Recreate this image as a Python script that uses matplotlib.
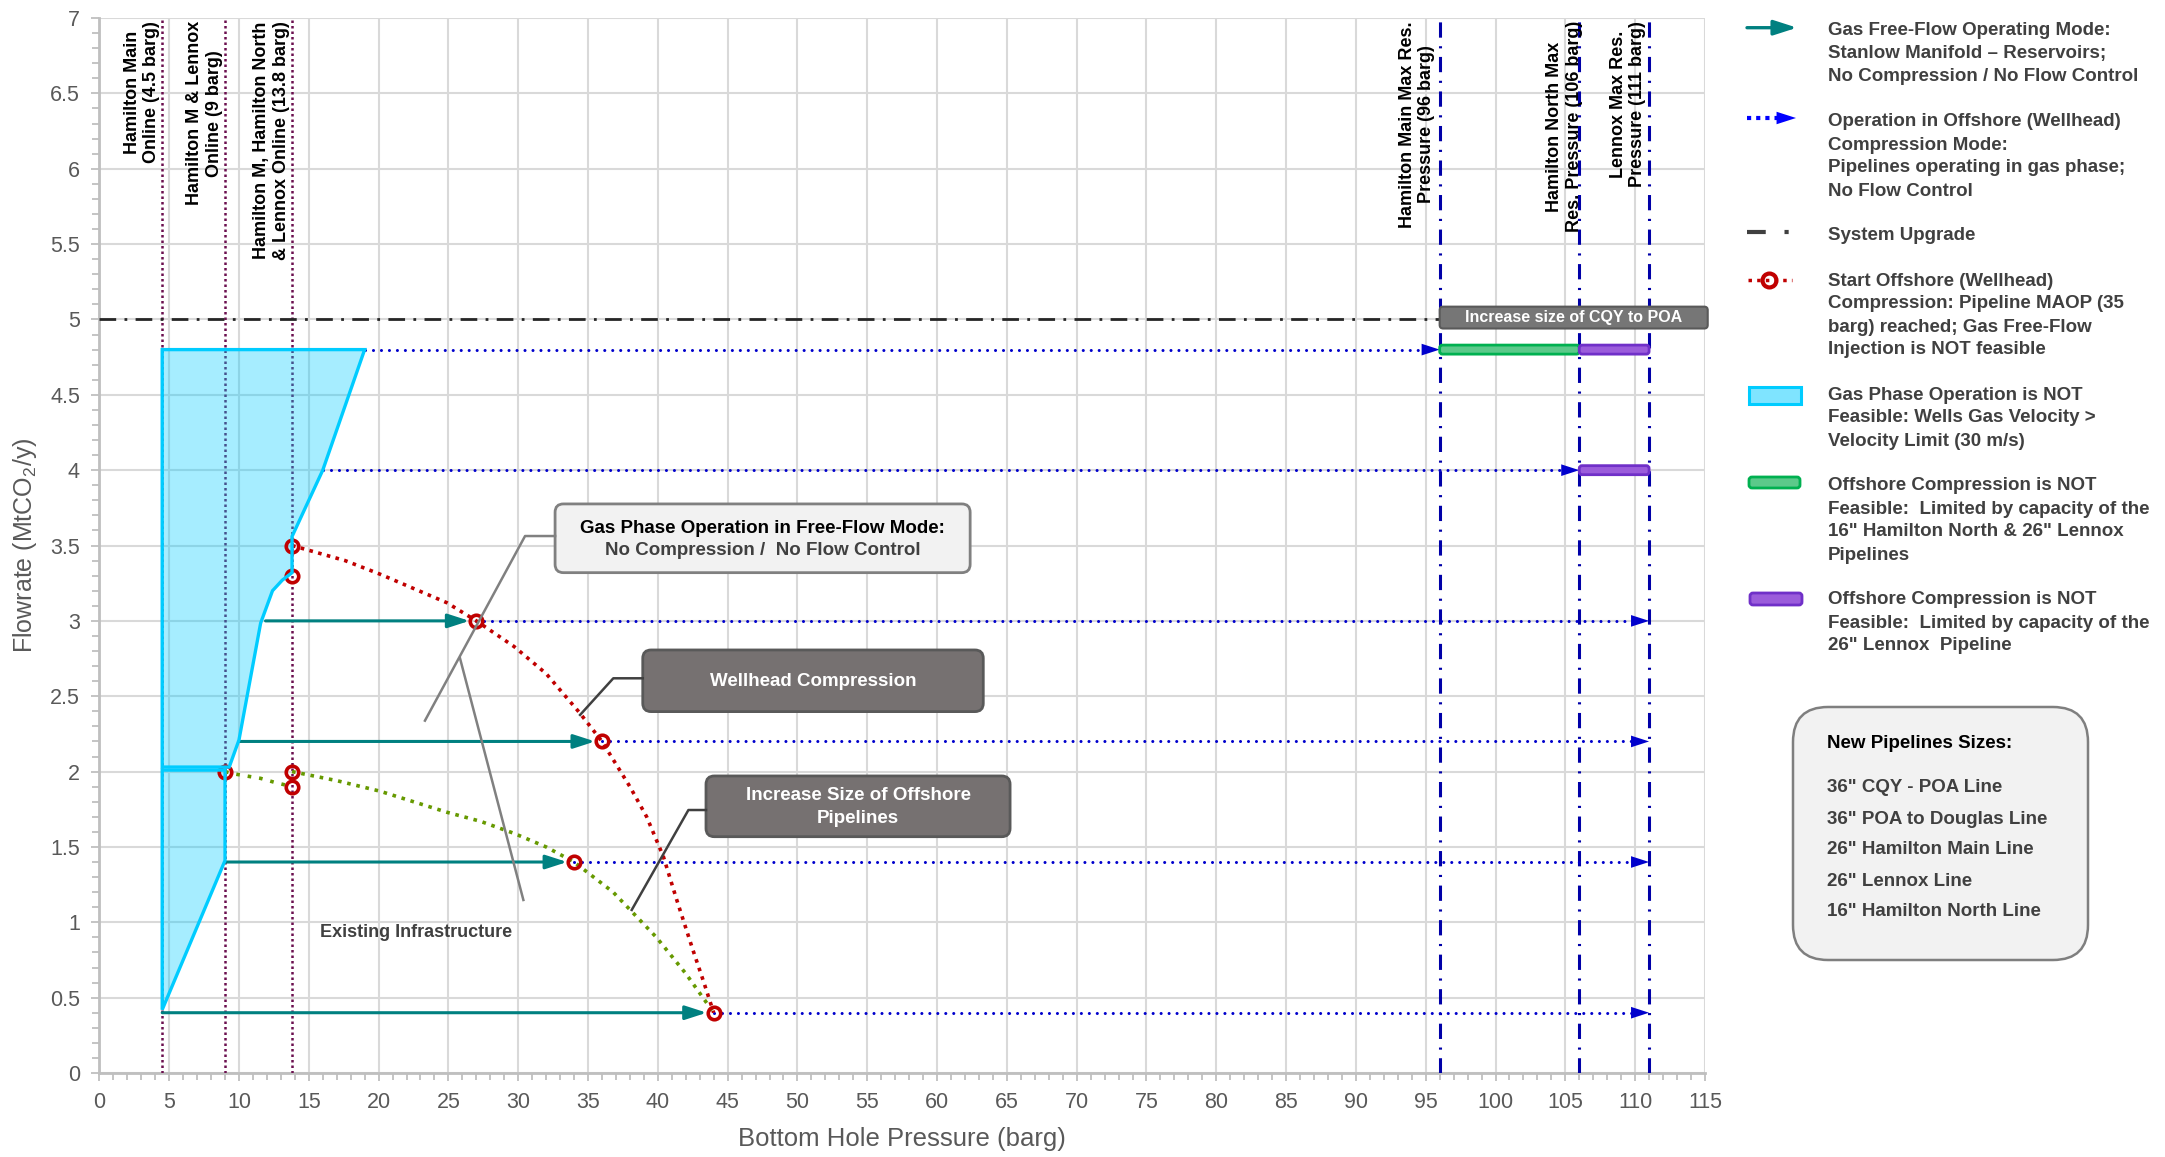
import numpy as np
import matplotlib
matplotlib.use("Agg")
import matplotlib.pyplot as plt
from matplotlib.patches import Polygon, FancyBboxPatch, FancyArrowPatch
from matplotlib.lines import Line2D
from matplotlib.ticker import MultipleLocator, FormatStrFormatter

plt.rcParams['font.family'] = ['Liberation Sans', 'DejaVu Sans']
plt.rcParams['mathtext.default'] = 'regular'

# field start-up pressures and max reservoir pressures (barg)
online_pressure = [4.5, 9.0, 13.8]
online_labels = ['Hamilton Main\nOnline (4.5 barg)',
                 'Hamilton M & Lennox\nOnline (9 barg)',
                 'Hamilton M, Hamilton North\n& Lennox Online (13.8 barg)']
max_res_pressure = [96, 106, 111]
max_res_labels = ['Hamilton Main Max Res.\nPressure (96 barg)',
                  'Hamilton North Max\nRes. Pressure (106 barg)',
                  'Lennox Max Res.\nPressure (111 barg)']
upgrade_rate = 5.0

# free-flow operation (teal arrows)
free_flow_rate = [3.0, 2.2, 1.4, 0.4]
free_flow_start = [11.9, 10.0, 9.0, 4.5]
free_flow_end = [27, 36, 34, 44]

# wellhead compression operation (blue dotted arrows)
comp_rate = [4.8, 4.0, 3.0, 2.2, 1.4, 0.4]
comp_start = [19, 16, 27, 36, 34, 44]
comp_end = [96, 106, 111, 111, 111, 111]

# MAOP reached curves
maop_upper_x = [13.8, 17.6, 20.1, 22.5, 24.9, 27.0, 29.7, 32.0, 34.4, 36.0, 38.0, 39.2, 40.4, 41.35, 42.5, 43.3, 44.0]
maop_upper_y = [3.5, 3.40, 3.31, 3.215, 3.12, 3.0, 2.83, 2.65, 2.39, 2.2, 1.9, 1.7, 1.435, 1.15, 0.82, 0.6, 0.4]
maop_lower_x = [13.8, 17.0, 20.1, 22.5, 24.9, 27.3, 29.7, 32.0, 34.0, 36.8, 39.9, 42.0, 44.0]
maop_lower_y = [2.0, 1.94, 1.87, 1.80, 1.73, 1.67, 1.59, 1.50, 1.40, 1.20, 0.90, 0.66, 0.4]
maop_early_x = [9.0, 9.64, 11.55, 12.5, 13.8]
maop_early_y = [2.0, 1.985, 1.955, 1.93, 1.9]

# start of offshore compression points
start_comp_x = [13.8, 13.8, 27, 36, 44, 9, 13.8, 13.8, 34]
start_comp_y = [3.5, 3.3, 3.0, 2.2, 0.4, 2.0, 2.0, 1.9, 1.4]

# wells gas velocity limit regions
velocity_upper_x = [4.5, 19.0, 16.0, 13.8, 13.8, 13.1, 12.4, 11.55, 10.0, 9.3, 4.5]
velocity_upper_y = [4.8, 4.8, 4.0, 3.56, 3.32, 3.27, 3.2, 2.985, 2.21, 2.03, 2.03]
velocity_lower_x = [4.5, 9.0, 9.0, 4.5]
velocity_lower_y = [2.01, 2.01, 1.41, 0.42]

# offshore compression capacity limits: (from, to, flowrate)
green_limits = [(96, 106, 4.8)]
purple_limits = [(106, 111, 4.8), (106, 111, 4.0)]

new_pipelines = ['36" CQY - POA Line', '36" POA to Douglas Line', '26" Hamilton Main Line',
                 '26" Lennox Line', '16" Hamilton North Line']

TEAL = '#008080'
BLUE_DOT = '#0000CC'
BLUE_DASH = '#0000A8'
MAROON = '#6B0F4F'
RED = '#C00000'
OLIVE = '#669900'
CYAN = '#00CCFF'
TXT = '#404040'
FS = 13.5

fig = plt.figure(figsize=(21.65, 11.57), dpi=100)
ax = fig.add_axes([0.0459, 0.0726, 0.7416, 0.9118])
ax.set_xlim(0, 115)
ax.set_ylim(0, 7)

ax.xaxis.set_major_locator(MultipleLocator(5))
ax.xaxis.set_minor_locator(MultipleLocator(1))
ax.yaxis.set_major_locator(MultipleLocator(0.5))
ax.yaxis.set_minor_locator(MultipleLocator(0.1))
ax.yaxis.set_major_formatter(FormatStrFormatter('%g'))
ax.grid(True, which='major', color='#D9D9D9', lw=1.5)
ax.set_axisbelow(True)
for s in ['top', 'right']:
    ax.spines[s].set_visible(False)
for s in ['left', 'bottom']:
    ax.spines[s].set_color('#BFBFBF')
    ax.spines[s].set_linewidth(2)
ax.tick_params(which='both', colors='#BFBFBF', labelcolor='#595959', labelsize=15.5, width=1.3)
ax.tick_params(which='major', length=6, pad=8)
ax.tick_params(which='minor', length=5)
ax.set_xlabel('Bottom Hole Pressure (barg)', fontsize=18.5, color='#595959', labelpad=10)
ax.set_ylabel('Flowrate (MtCO$_2$/y)', fontsize=18, color='#595959', labelpad=8)

# vertical reference lines
for xv in online_pressure:
    ax.axvline(xv, color=MAROON, lw=1.8, ls=(0, (1, 1.2)), zorder=3)
for xv in max_res_pressure:
    ax.axvline(xv, color=BLUE_DASH, lw=2.2, ls=(0, (5, 2.8, 0.7, 2.8)), zorder=3)
for xv, lab in zip(online_pressure, online_labels):
    ax.text(xv - 0.15, 6.98, lab, rotation=90, ha='right', va='top', multialignment='center',
            fontsize=13, fontweight='bold', color='black')
for xv, lab in zip(max_res_pressure, max_res_labels):
    ax.text(xv - 0.3 if xv == 96 else xv + (0.25 if xv == 106 else -0.2), 6.98, lab, rotation=90,
            ha='right', va='top', multialignment='center', fontsize=13, fontweight='bold', color='black')

# system upgrade line
ax.plot([0, max_res_pressure[0]], [upgrade_rate, upgrade_rate], color='#262626', lw=2,
        ls=(0, (6, 3, 1, 3)), zorder=3)

# velocity limit regions
for px, py in [(velocity_upper_x, velocity_upper_y), (velocity_lower_x, velocity_lower_y)]:
    ax.add_patch(Polygon(np.column_stack([px, py]), closed=True, facecolor=CYAN, alpha=0.35,
                         edgecolor='none', zorder=4))
    ax.add_patch(Polygon(np.column_stack([px, py]), closed=True, facecolor='none',
                         edgecolor=CYAN, lw=2.4, zorder=6))

# compression arrows
for y, x0, x1 in zip(comp_rate, comp_start, comp_end):
    ax.plot([x0, x1 - 1.2], [y, y], color=BLUE_DOT, lw=2.2, ls=(0, (0.01, 2.6)),
            dash_capstyle='round', zorder=5)
    ax.annotate('', xy=(x1, y), xytext=(x1 - 3, y),
                arrowprops=dict(arrowstyle='-|>,head_length=1.3,head_width=0.42', mutation_scale=10,
                                color=BLUE_DOT, lw=0, shrinkA=0, shrinkB=0), zorder=5)

# free-flow arrows
for y, x0, x1 in zip(free_flow_rate, free_flow_start, free_flow_end):
    ax.annotate('', xy=(x1, y), xytext=(x0, y),
                arrowprops=dict(arrowstyle='-|>,head_length=1.3,head_width=0.42', mutation_scale=10,
                                color=TEAL, lw=2.2, shrinkA=0, shrinkB=5), zorder=5)

# MAOP curves
ax.plot(maop_upper_x, maop_upper_y, color=RED, lw=2.6, ls=(0, (1, 1.5)), zorder=5)
ax.plot(maop_lower_x, maop_lower_y, color=OLIVE, lw=2.6, ls=(0, (1, 1.6)), zorder=5)
ax.plot(maop_early_x, maop_early_y, color=OLIVE, lw=2.6, ls=(0, (1, 2.2)), zorder=5)
ax.plot(start_comp_x, start_comp_y, ls='none', marker='o', ms=9, mfc='none', mec=RED, mew=2.6, zorder=5)

# capacity limit bars
for x0, x1, y in green_limits:
    ax.add_patch(FancyBboxPatch((x0, y - 0.03), x1 - x0, 0.06, boxstyle='round,pad=0,rounding_size=0.2',
                                mutation_aspect=0.0926, facecolor='#5CC98A', edgecolor='#00B050', lw=2, zorder=7))
for x0, x1, y in purple_limits:
    ax.add_patch(FancyBboxPatch((x0, y - 0.03), x1 - x0, 0.06, boxstyle='round,pad=0,rounding_size=0.2',
                                mutation_aspect=0.0926, facecolor='#9B5CDB', edgecolor='#7030C8', lw=2, zorder=7))

# CQY upgrade tag
ax.add_patch(FancyBboxPatch((96, 4.94), 19.2, 0.145, boxstyle='round,pad=0,rounding_size=0.25',
                            mutation_aspect=0.0926, facecolor='#767676', edgecolor='#595959', lw=1.5,
                            zorder=8, clip_on=False))
ax.text(105.6, 5.012, 'Increase size of CQY to POA', ha='center', va='center', fontsize=11.5,
        fontweight='bold', color='white', zorder=9)


def callout(x0, x1, y0, y1, lines, fc, ec, colors, ys, leader, lc):
    ax.add_patch(FancyBboxPatch((x0, y0), x1 - x0, y1 - y0, boxstyle='round,pad=0,rounding_size=0.6',
                                mutation_aspect=0.0926, facecolor=fc, edgecolor=ec, lw=2, zorder=8))
    for t, c, yy in zip(lines, colors, ys):
        ax.text((x0 + x1) / 2, yy, t, ha='center', va='center', fontsize=FS, fontweight='bold',
                color=c, zorder=9)
    for seg in leader:
        xs, ys_ = zip(*seg)
        ax.plot(xs, ys_, color=lc, lw=1.8, zorder=8)


callout(32.64, 62.37, 3.32, 3.776,
        ['Gas Phase Operation in Free-Flow Mode:', 'No Compression /  No Flow Control'],
        '#F2F2F2', '#808080', ['black', TXT], [3.615, 3.47],
        [[(32.64, 3.563), (30.49, 3.563), (23.32, 2.338)], [(25.83, 2.752), (30.37, 1.148)]], '#808080')
callout(38.92, 63.31, 2.398, 2.807, ['Wellhead Compression'], '#767171', '#595959', ['white'], [2.6],
        [[(38.92, 2.619), (36.81, 2.619), (34.43, 2.376)]], '#404040')
callout(43.45, 65.23, 1.568, 1.971, ['Increase Size of Offshore', 'Pipelines'], '#767171', '#595959',
        ['white', 'white'], [1.84, 1.69],
        [[(43.45, 1.745), (42.19, 1.745), (38.13, 1.082)]], '#404040')
ax.text(22.7, 0.93, 'Existing Infrastructure', ha='center', va='center', fontsize=13,
        fontweight='bold', color=TXT, zorder=9)

# legend panel, laid out in pixel units
lg = fig.add_axes([0, 0, 1, 1])
lg.set_xlim(0, 2165)
lg.set_ylim(1157, 0)
lg.set_axis_off()


def legend_text(y, lines):
    for i, t in enumerate(lines):
        lg.text(1828, y + i * 23, t, ha='left', va='center', fontsize=FS, fontweight='bold', color=TXT)


lg.add_patch(FancyArrowPatch((1747, 27.7), (1797, 27.7), arrowstyle='-|>,head_length=1.4,head_width=0.45',
                             mutation_scale=10, color=TEAL, lw=2.4, shrinkA=0, shrinkB=0))
legend_text(30.7, ['Gas Free-Flow Operating Mode:', 'Stanlow Manifold \u2013 Reservoirs;',
                   'No Compression / No Flow Control'])

lg.add_line(Line2D([1747, 1780], [118, 118], color='#0000FF', lw=3, ls=(0, (1, 1.2))))
lg.add_patch(FancyArrowPatch((1775, 118), (1796, 118), arrowstyle='-|>,head_length=1.4,head_width=0.45',
                             mutation_scale=10, color='#0000FF', lw=0, shrinkA=0, shrinkB=0))
legend_text(122, ['Operation in Offshore (Wellhead)', 'Compression Mode:',
                  'Pipelines operating in gas phase;', 'No Flow Control'])

lg.add_line(Line2D([1747, 1800], [232, 232], color='#404040', lw=3, ls=(0, (4.5, 4.5, 1, 4.5, 1.5, 9))))
legend_text(236, ['System Upgrade'])

lg.add_line(Line2D([1748, 1792], [280, 280], color=RED, lw=2.5, ls=(0, (1, 1.5))))
lg.add_line(Line2D([1769], [280], ls='none', marker='o', ms=10, mfc='none', mec=RED, mew=3))
legend_text(281, ['Start Offshore (Wellhead)', 'Compression: Pipeline MAOP (35',
                  'barg) reached; Gas Free-Flow', 'Injection is NOT feasible'])

lg.add_patch(FancyBboxPatch((1749, 387), 52, 17, boxstyle='square,pad=0', facecolor='#7FE4FF',
                            edgecolor=CYAN, lw=2.2))
legend_text(395, ['Gas Phase Operation is NOT', 'Feasible: Wells Gas Velocity >', 'Velocity Limit (30 m/s)'])

lg.add_patch(FancyBboxPatch((1749, 477), 51, 11, boxstyle='round,pad=0,rounding_size=3',
                            facecolor='#5CC98A', edgecolor='#00B050', lw=2))
legend_text(486, ['Offshore Compression is NOT', 'Feasible:  Limited by capacity of the',
                  '16" Hamilton North & 26" Lennox', 'Pipelines'])

lg.add_patch(FancyBboxPatch((1750, 593), 52, 12, boxstyle='round,pad=0,rounding_size=3',
                            facecolor='#9B5CDB', edgecolor='#7030C8', lw=2))
legend_text(600, ['Offshore Compression is NOT', 'Feasible:  Limited by capacity of the',
                  '26" Lennox  Pipeline'])

# new pipeline sizes box
lg.add_patch(FancyBboxPatch((1793, 707), 295, 253, boxstyle='round,pad=0,rounding_size=35',
                            facecolor='#F2F2F2', edgecolor='#7F7F7F', lw=1.8))
lg.text(1827, 743, 'New Pipelines Sizes:', ha='left', va='center', fontsize=FS, fontweight='bold', color='black')
for i, t in enumerate(new_pipelines):
    lg.text(1827, 788 + i * 31, t, ha='left', va='center', fontsize=FS, fontweight='bold', color=TXT)

fig.savefig('out.png', dpi=100)
plt.close(fig)
